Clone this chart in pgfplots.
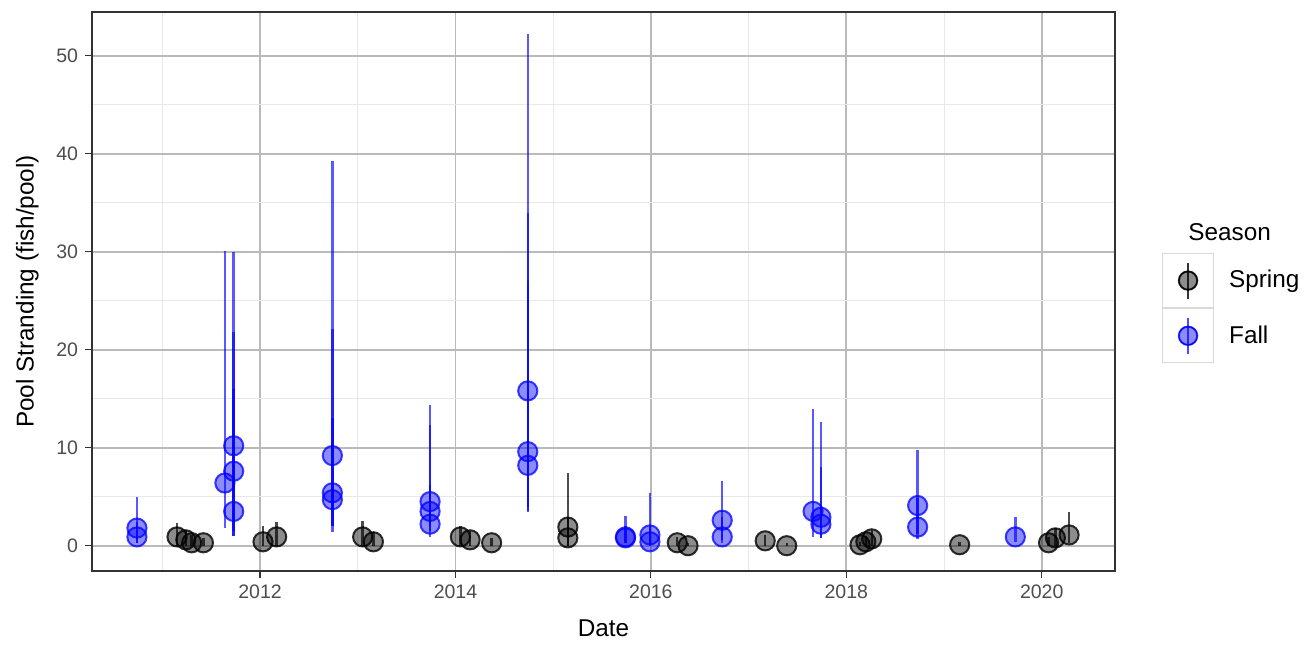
\documentclass[border=0pt]{standalone}
\usepackage{fontspec}
\setmainfont{Liberation Sans}
\usepackage{pgfplots}
\usepackage{pgfplotstable}
\pgfplotsset{compat=1.18}

\definecolor{tickgray}{HTML}{4D4D4D}
\definecolor{framegray}{HTML}{333333}
\definecolor{keygray}{HTML}{D9D9D9}

% date (decimal year), mean stranding, upper and lower interval widths
\pgfplotstableread{
x y ep em
2010.74 1.8 3.2 1.5
2010.74 0.9 1.5 0.6
2011.64 6.4 23.7 4.6
2011.73 10.2 19.8 9.25
2011.73 7.6 14.2 6.1
2011.73 3.5 12.5 2.5
2012.74 9.2 30.1 7.8
2012.74 5.4 16.7 3.4
2012.74 4.7 8.3 2.7
2013.74 4.5 9.9 2.5
2013.74 3.5 8.8 2.0
2013.74 2.2 4.0 1.3
2014.74 15.8 36.4 11.8
2014.74 9.6 24.4 6.2
2014.74 8.2 18.8 4.7
2015.74 0.9 2.1 0.6
2015.74 0.8 1.2 0.5
2015.99 1.1 4.3 1.0
2015.99 0.4 1.6 0.4
2016.73 2.6 4.0 2.0
2016.73 0.9 2.0 0.6
2017.66 3.5 10.4 2.6
2017.74 2.9 9.7 2.1
2017.74 2.2 5.8 1.4
2018.73 4.1 5.7 2.9
2018.73 1.9 3.0 1.2
2019.73 0.9 2.0 0.5
}\fall

\pgfplotstableread{
x y ep em
2011.15 0.9 1.4 0.9
2011.24 0.6 1.0 0.6
2011.30 0.3 0.8 0.3
2011.42 0.3 0.5 0.3
2012.03 0.4 1.6 0.4
2012.17 0.9 1.5 0.9
2013.05 0.9 1.6 0.9
2013.16 0.4 1.0 0.4
2014.05 0.9 1.1 0.9
2014.15 0.6 0.9 0.6
2014.37 0.3 0.5 0.3
2015.15 1.9 5.5 1.9
2015.15 0.8 2.0 0.8
2016.27 0.3 0.6 0.3
2016.38 0.0 0.3 0.0
2017.17 0.5 0.6 0.5
2017.39 0.0 0.3 0.0
2018.14 0.1 0.3 0.1
2018.20 0.4 0.6 0.4
2018.26 0.7 0.9 0.7
2019.16 0.1 0.3 0.1
2020.07 0.3 0.6 0.3
2020.14 0.8 1.0 0.8
2020.28 1.1 2.3 0.8
}\spring

\begin{document}
\begin{tikzpicture}
\useasboundingbox (-46bp,-37bp) rectangle (610bp,285.5bp);
\begin{axis}[
  name=main,
  scale only axis,
  width=511.5bp, height=279.5bp,
  xmin=2010.28, xmax=2020.75,
  ymin=-2.58, ymax=54.46,
  xtick={2012,2014,2016,2018,2020},
  minor xtick={2011,2013,2015,2017,2019},
  ytick={0,10,20,30,40,50},
  minor ytick={5,15,25,35,45},
  xticklabel style={/pgf/number format/1000 sep={}},
  /pgf/number format/assume math mode=true,
  tick label style={font=\fontsize{9.8}{11}\selectfont, text=tickgray},
  label style={font=\fontsize{12.2}{14}\selectfont},
  xlabel={Date},
  ylabel={Pool Stranding (fish/pool)},
  ylabel style={yshift=2bp},
  xlabel style={yshift=-3.5bp},
  tick align=outside,
  major tick length=3.5bp,
  minor tick length=0pt,
  every tick/.style={framegray, line width=0.6bp},
  xtick pos=bottom, ytick pos=left,
  grid=both,
  major grid style={draw=black!27, line width=0.9bp},
  minor grid style={draw=black!9, line width=0.5bp},
  axis line style={framegray, line width=0.7bp},
  legend style={
    at={(axis description cs:1.0459,0.5689)}, anchor=north west,
    draw=none, fill=none, inner sep=0pt, outer sep=0pt,
    row sep=0pt, column sep=7.5bp,
    nodes={inner sep=0pt, outer sep=0pt, anchor=west},
    font=\fontsize{12.2}{14}\selectfont,
  },
  legend cell align=left,
]
\addplot+[
  only marks, black,
  mark=*, mark size=4.8bp,
  mark options={fill=black, fill opacity=0.45, draw=black, draw opacity=0.8, line width=1bp},
  legend image code/.code={
    \draw[keygray, fill=white, line width=0.6bp] (0bp,-13.5bp) rectangle (25.5bp,13.5bp);
    \draw[black, line width=1.1bp, draw opacity=0.8] (12.75bp,-9bp) -- (12.75bp,9bp);
    \fill[black, fill opacity=0.45] (12.75bp,0bp) circle (4.6bp);
    \draw[black, draw opacity=0.8, line width=1bp] (12.75bp,0bp) circle (4.6bp);
  },
  error bars/.cd, y dir=both, y explicit,
  error mark=none,
  error bar style={line width=1.2bp, draw opacity=0.7},
] table[x=x, y=y, y error plus=ep, y error minus=em] {\spring};
\addlegendentry{Spring}

\addplot+[
  only marks, blue,
  mark=*, mark size=4.8bp,
  mark options={fill=blue, fill opacity=0.45, draw=blue, draw opacity=0.75, line width=1bp},
  legend image code/.code={
    \draw[keygray, fill=white, line width=0.6bp] (0bp,-13.5bp) rectangle (25.5bp,13.5bp);
    \draw[blue, line width=1.1bp, draw opacity=0.7] (12.75bp,-9bp) -- (12.75bp,9bp);
    \fill[blue, fill opacity=0.45] (12.75bp,0bp) circle (4.6bp);
    \draw[blue, draw opacity=0.75, line width=1bp] (12.75bp,0bp) circle (4.6bp);
  },
  error bars/.cd, y dir=both, y explicit,
  error mark=none,
  error bar style={line width=1.2bp, draw opacity=0.65},
] table[x=x, y=y, y error plus=ep, y error minus=em] {\fall};
\addlegendentry{Fall}
\end{axis}
% legend title
\node[anchor=west, font=\fontsize{12.2}{14}\selectfont, inner sep=0pt,
      xshift=548bp, yshift=169.5bp] at (main.south west) {Season};
\end{tikzpicture}
\end{document}
